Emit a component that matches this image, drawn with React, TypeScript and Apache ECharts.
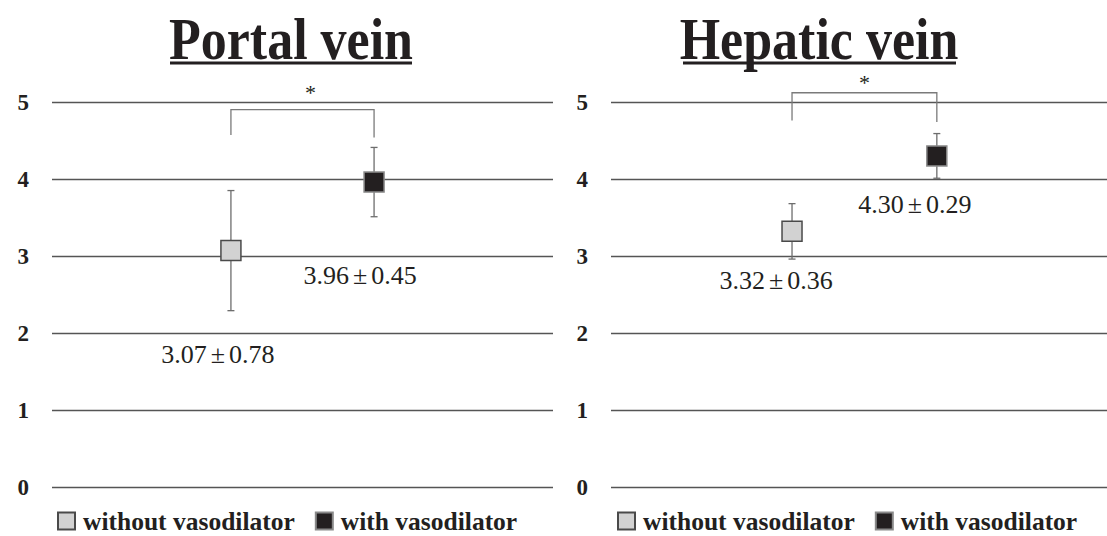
import React, { useEffect, useRef } from "react";
import * as echarts from "echarts";

const groups = ["without vasodilator", "with vasodilator"];
const groupPos = [2.5, 4.5];
const xSpan = [7, 6.85];
const panels = ["Portal vein", "Hepatic vein"];
const portalMean = [3.07, 3.96];
const portalSd = [0.78, 0.45];
const hepaticMean = [3.32, 4.3];
const hepaticSd = [0.36, 0.29];
const yTicks = [0, 1, 2, 3, 4, 5];
const bracketTop = [4.9, 5.12];
const bracketLegLeft = [4.57, 4.76];
const bracketLegRight = [4.54, 4.74];
const sigMark = ["*", "*"];

const INK = "#231f20";
const SERIF = "'Liberation Serif', 'Times New Roman', serif";

export default function App() {
  const ref = useRef<HTMLDivElement>(null);
  useEffect(() => {
    document.body.style.margin = "0";
    const chart = echarts.init(ref.current!, null, { renderer: "svg" });
    const means = [portalMean, hepaticMean];
    const sds = [portalSd, hepaticSd];
    const grids = [
      { left: 52, right: 554, top: 102, bottom: 49 },
      { left: 611, right: 0, top: 102, bottom: 49 },
    ];
    const labelOffsets = [
      [[-13, 104], [-14, 93]],
      [[-16, 49], [-22, 49]],
    ];
    const starOffset = [
      [8, 17],
      [0, 10],
    ];
    const fills = ["#d2d2d2", INK];
    const borders = ["#4a4a4a", "#8a8a8a"];

    const series: any[] = [];
    panels.forEach((_, p) => {
      series.push({
        type: "custom",
        name: "err" + p,
        xAxisIndex: p,
        yAxisIndex: p,
        z: 3,
        silent: true,
        data: groupPos.map((gx, i) => [gx, means[p][i], sds[p][i]]),
        renderItem: (params: any, api: any) => {
          const x = api.value(0);
          const m = api.value(1);
          const s = api.value(2);
          const t = api.coord([x, m + s]);
          const b = api.coord([x, m - s]);
          const st = { stroke: "#6d6d6d", lineWidth: 1.3 };
          return {
            type: "group",
            children: [
              { type: "line", shape: { x1: t[0], y1: t[1], x2: b[0], y2: b[1] }, style: st },
              { type: "line", shape: { x1: t[0] - 3.5, y1: t[1], x2: t[0] + 3.5, y2: t[1] }, style: st },
              { type: "line", shape: { x1: b[0] - 3.5, y1: b[1], x2: b[0] + 3.5, y2: b[1] }, style: st },
            ],
          };
        },
      });
      series.push({
        type: "custom",
        name: "sig" + p,
        xAxisIndex: p,
        yAxisIndex: p,
        z: 3,
        silent: true,
        data: [[groupPos[0], groupPos[1], bracketTop[p], bracketLegLeft[p], bracketLegRight[p]]],
        renderItem: (params: any, api: any) => {
          const a = api.coord([api.value(0), api.value(3)]);
          const b = api.coord([api.value(0), api.value(2)]);
          const c = api.coord([api.value(1), api.value(2)]);
          const d = api.coord([api.value(1), api.value(4)]);
          return {
            type: "group",
            children: [
              {
                type: "polyline",
                shape: { points: [a, b, c, d] },
                style: { stroke: "#7a7a7a", lineWidth: 1.3, fill: null },
              },
              {
                type: "text",
                x: (b[0] + c[0]) / 2 + starOffset[p][0],
                y: b[1] - starOffset[p][1],
                style: {
                  text: sigMark[p],
                  font: `22px ${SERIF}`,
                  fill: INK,
                  align: "center",
                  verticalAlign: "middle",
                  textAlign: "center",
                  textVerticalAlign: "middle",
                },
              },
            ],
          };
        },
      });
      groups.forEach((g, i) => {
        series.push({
          type: "scatter",
          name: g,
          xAxisIndex: p,
          yAxisIndex: p,
          z: 5,
          symbol: "rect",
          symbolSize: 20,
          itemStyle: { color: fills[i], borderColor: borders[i], borderWidth: 1.5, opacity: 1 },
          label: {
            show: true,
            position: "inside",
            offset: labelOffsets[p][i],
            formatter: () => `{n|${means[p][i].toFixed(2)}}{pm|±}{n|${sds[p][i].toFixed(2)}}`,
            rich: {
              n: { fontFamily: SERIF, fontSize: 26, color: INK },
              pm: { fontFamily: SERIF, fontSize: 26, color: INK, padding: [0, 4, 0, 4] },
            },
          },
          data: [[groupPos[i], means[p][i]]],
        });
      });
    });

    const titleX = [291, 819];
    const graphic: any[] = [];
    panels.forEach((t, p) => {
      graphic.push({
        type: "text",
        x: titleX[p],
        y: 10,
        scaleY: 1.12,
        style: {
          text: t,
          font: `bold 52px ${SERIF}`,
          fill: INK,
          align: "center",
          verticalAlign: "top",
          textAlign: "center",
          textVerticalAlign: "top",
        },
      });
    });
    graphic.push({ type: "line", shape: { x1: 170, y1: 63, x2: 412, y2: 63 }, style: { stroke: INK, lineWidth: 3 } });
    graphic.push({ type: "line", shape: { x1: 683, y1: 63, x2: 956, y2: 63 }, style: { stroke: INK, lineWidth: 3 } });

    const axisFont = { fontFamily: SERIF, fontWeight: "bold", fontSize: 23, color: INK };

    chart.setOption({
      animation: false,
      backgroundColor: "#ffffff",
      grid: grids,
      xAxis: grids.map((_, p) => ({
        type: "value",
        gridIndex: p,
        min: 0,
        max: xSpan[p],
        show: false,
      })),
      yAxis: grids.map((_, p) => ({
        type: "value",
        gridIndex: p,
        min: yTicks[0],
        max: yTicks[yTicks.length - 1],
        interval: 1,
        axisLine: { show: false },
        axisTick: { show: false },
        axisLabel: { ...axisFont, margin: 23 },
        splitLine: { show: true, lineStyle: { color: "#555", width: 1.3 } },
      })),
      legend: [57, 617].map((l) => ({
        left: l,
        top: 508,
        padding: 0,
        itemWidth: 17,
        itemHeight: 17,
        itemGap: 20,
        icon: "rect",
        data: groups,
        selectedMode: false,
        textStyle: { fontFamily: SERIF, fontWeight: "bold", fontSize: 25.5, color: INK, padding: [0, 0, 0, 3] },
      })),
      graphic,
      series,
    });
    return () => chart.dispose();
  }, []);
  return <div ref={ref} style={{ width: 1107, height: 536 }} />;
}
